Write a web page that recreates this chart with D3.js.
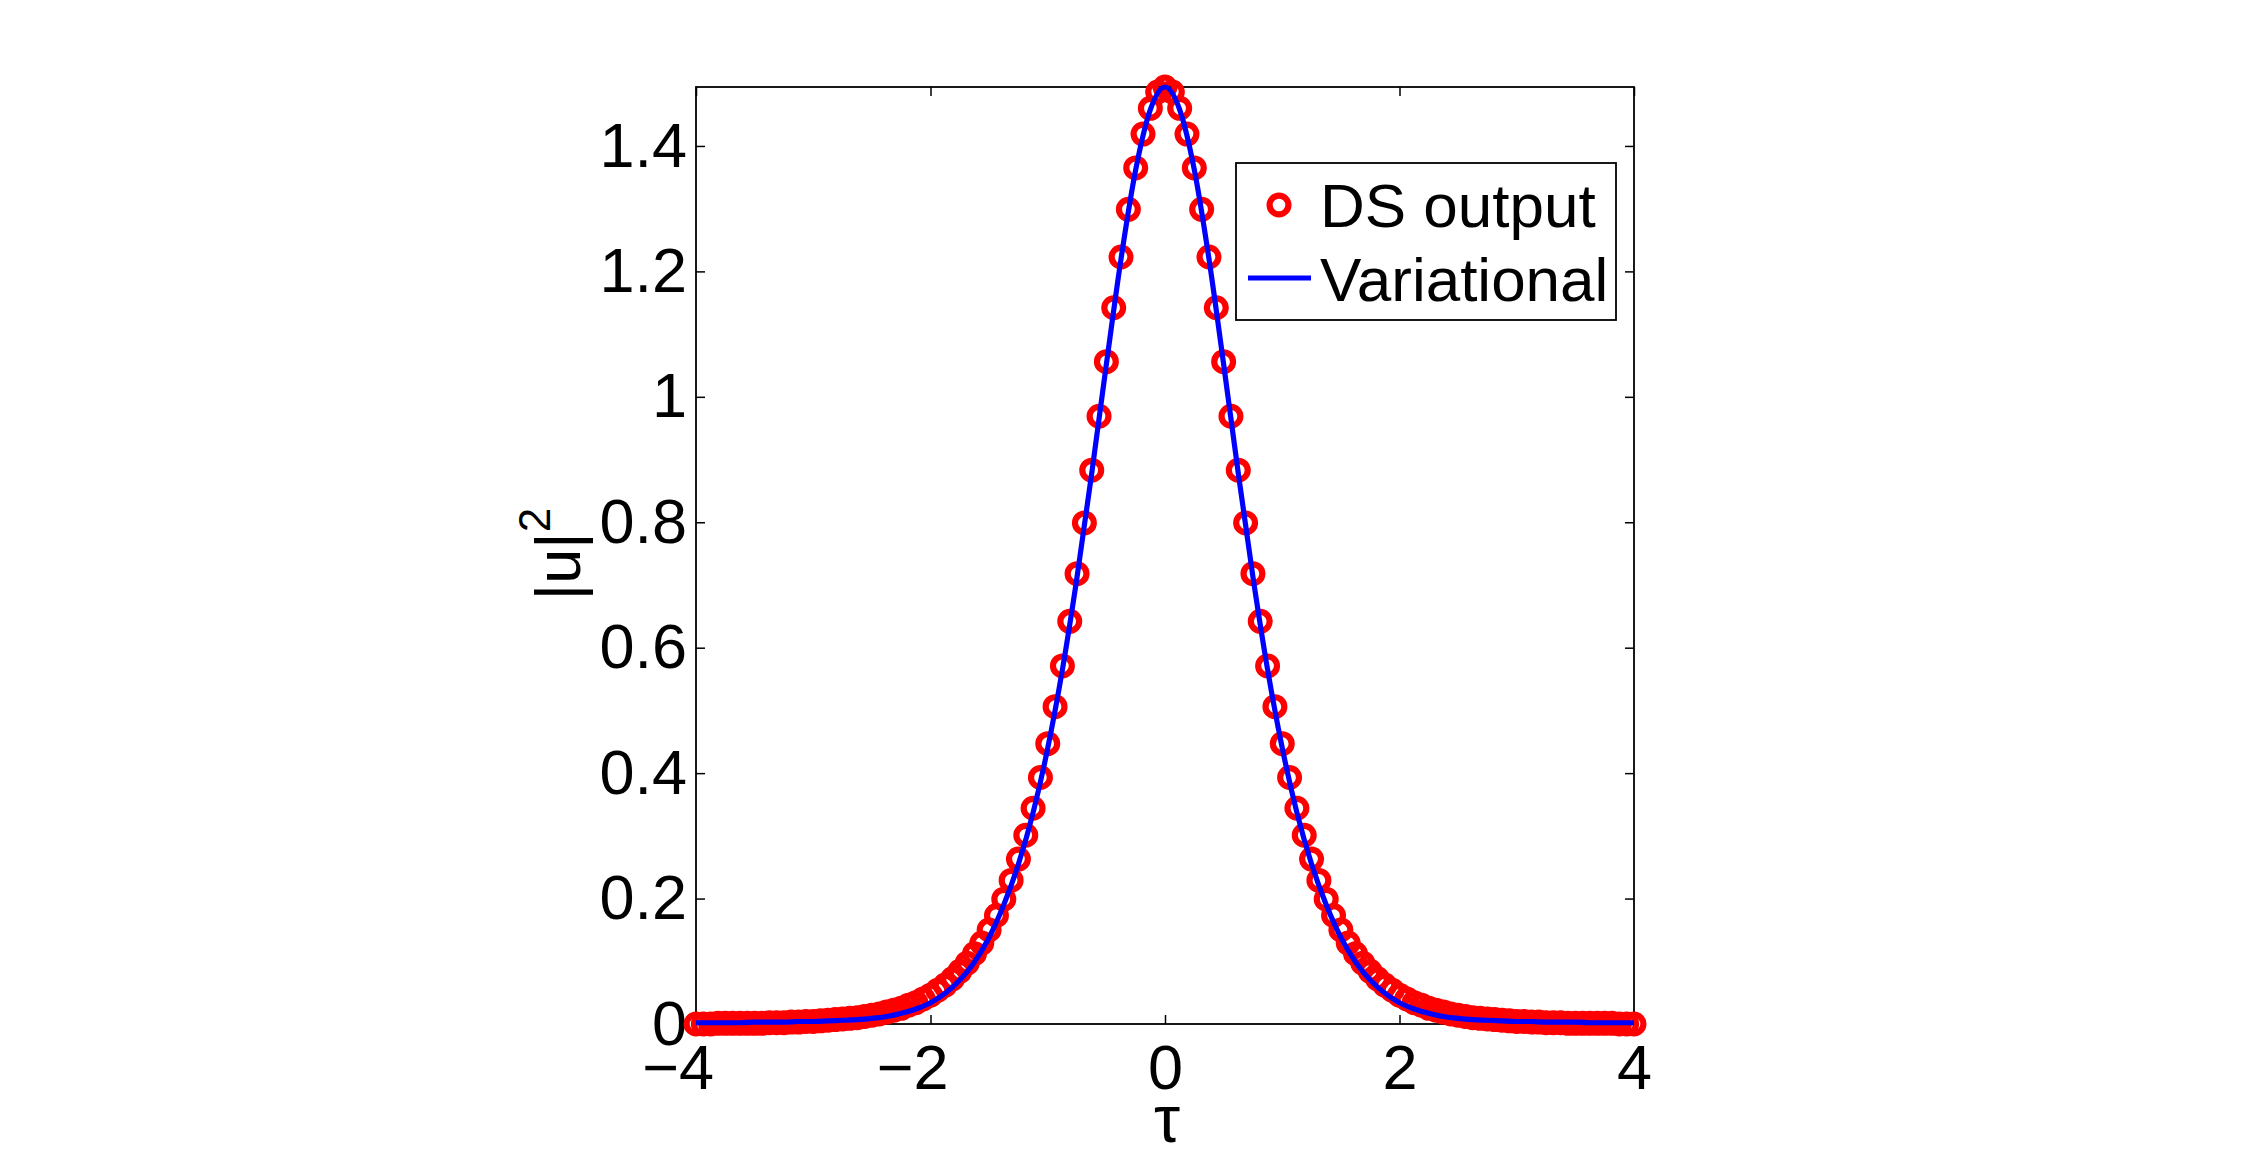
<!DOCTYPE html>
<html>
<head>
<meta charset="utf-8">
<script src="https://cdn.jsdelivr.net/npm/d3@7"></script>
<style>
  html, body { margin: 0; padding: 0; background: #ffffff; }
  svg { display: block; }
  text { font-family: "Liberation Sans", Arial, Helvetica, sans-serif; fill: #000; }
</style>
</head>
<body>
<script>
// ---------------- data ----------------
const xDomain = [-4, 4];
const yDomain = [0, 1.494];
const xTicks = [-4, -2, 0, 2, 4];
const xTickLabels = ["4", "2", "0", "2", "4"];
const xTickNegative = [true, true, false, false, false];
const yTicks = [0, 0.2, 0.4, 0.6, 0.8, 1, 1.2, 1.4];
const yTickLabels = ["0", "0.2", "0.4", "0.6", "0.8", "1", "1.2", "1.4"];
const seriesNames = ["DS output", "Variational"];
const xLabel = "τ";
const yLabelMain = "|u|";
const yLabelSup = "2";

// DS output samples (tau, |u|^2)
const dsTau = [
 -4,-3.9375,-3.875,-3.8125,-3.75,-3.6875,-3.625,-3.5625,-3.5,-3.4375,-3.375,-3.3125,-3.25,-3.1875,-3.125,-3.0625,
 -3,-2.9375,-2.875,-2.8125,-2.75,-2.6875,-2.625,-2.5625,-2.5,-2.4375,-2.375,-2.3125,-2.25,-2.1875,-2.125,-2.0625,
 -2,-1.9375,-1.875,-1.8125,-1.75,-1.6875,-1.625,-1.5625,-1.5,-1.4375,-1.375,-1.3125,-1.25,-1.1875,-1.125,-1.0625,
 -1,-0.9375,-0.875,-0.8125,-0.75,-0.6875,-0.625,-0.5625,-0.5,-0.4375,-0.375,-0.3125,-0.25,-0.1875,-0.125,-0.0625,
 0,
 0.0625,0.125,0.1875,0.25,0.3125,0.375,0.4375,0.5,0.5625,0.625,0.6875,0.75,0.8125,0.875,0.9375,1,
 1.0625,1.125,1.1875,1.25,1.3125,1.375,1.4375,1.5,1.5625,1.625,1.6875,1.75,1.8125,1.875,1.9375,2,
 2.0625,2.125,2.1875,2.25,2.3125,2.375,2.4375,2.5,2.5625,2.625,2.6875,2.75,2.8125,2.875,2.9375,3,
 3.0625,3.125,3.1875,3.25,3.3125,3.375,3.4375,3.5,3.5625,3.625,3.6875,3.75,3.8125,3.875,3.9375,4
];
const dsValues = [
 0.000,0.000,0.000,0.001,0.001,0.001,0.001,0.001,0.001,0.001,0.002,0.002,0.002,0.003,0.003,0.004,
 0.004,0.005,0.006,0.007,0.008,0.009,0.010,0.012,0.014,0.016,0.019,0.022,0.025,0.030,0.034,0.040,
 0.046,0.054,0.062,0.072,0.084,0.097,0.112,0.129,0.150,0.173,0.199,0.229,0.263,0.301,0.344,0.393,
 0.447,0.506,0.571,0.642,0.718,0.799,0.883,0.969,1.056,1.142,1.223,1.299,1.365,1.419,1.460,1.486,
 1.494,
 1.486,1.460,1.419,1.365,1.299,1.223,1.142,1.056,0.969,0.883,0.799,0.718,0.642,0.571,0.506,0.447,
 0.393,0.344,0.301,0.263,0.229,0.199,0.173,0.150,0.129,0.112,0.097,0.084,0.072,0.062,0.054,0.046,
 0.040,0.034,0.030,0.025,0.022,0.019,0.016,0.014,0.012,0.010,0.009,0.008,0.007,0.006,0.005,0.004,
 0.004,0.003,0.003,0.002,0.002,0.002,0.001,0.001,0.001,0.001,0.001,0.001,0.001,0.000,0.000,0.000
];

// Variational curve samples (tau, |u|^2)
const varTau = [
 -4,-3.875,-3.75,-3.625,-3.5,-3.375,-3.25,-3.125,-3,-2.875,-2.75,-2.625,-2.5,-2.375,-2.25,-2.125,
 -2,-1.875,-1.75,-1.625,-1.5,-1.375,-1.25,-1.125,-1,-0.875,-0.75,-0.625,-0.5,-0.375,-0.25,-0.125,
 0,
 0.125,0.25,0.375,0.5,0.625,0.75,0.875,1,1.125,1.25,1.375,1.5,1.625,1.75,1.875,2,
 2.125,2.25,2.375,2.5,2.625,2.75,2.875,3,3.125,3.25,3.375,3.5,3.625,3.75,3.875,4
];
const varValues = [
 0.002,0.002,0.002,0.002,0.003,0.003,0.003,0.004,0.004,0.005,0.006,0.007,0.009,0.012,0.017,0.024,
 0.034,0.049,0.070,0.099,0.138,0.190,0.255,0.337,0.440,0.565,0.713,0.878,1.052,1.220,1.362,1.458,
 1.494,
 1.458,1.362,1.220,1.052,0.878,0.713,0.565,0.440,0.337,0.255,0.190,0.138,0.099,0.070,0.049,0.034,
 0.024,0.017,0.012,0.009,0.007,0.006,0.005,0.004,0.004,0.003,0.003,0.003,0.002,0.002,0.002,0.002
];

// ---------------- drawing ----------------
const W = 2250, H = 1161;
const plot = { left: 696, top: 87, right: 1634, bottom: 1024 };

const svg = d3.select("body").append("svg")
  .attr("width", W).attr("height", H)
  .attr("viewBox", `0 0 ${W} ${H}`);
svg.append("rect").attr("width", W).attr("height", H).attr("fill", "#fff");

const x = d3.scaleLinear().domain(xDomain).range([plot.left, plot.right]);
const y = d3.scaleLinear().domain(yDomain).range([plot.bottom, plot.top]);

const tickFont = 63;
const tickLen = 9;

// Bottom axis
const gx = svg.append("g")
  .attr("transform", `translate(0,${plot.bottom})`)
  .call(d3.axisBottom(x).tickValues(xTicks).tickSize(-tickLen).tickPadding(20)
        .tickFormat((d, i) => xTickLabels[i]));
gx.select(".domain").remove();
gx.selectAll(".tick line").attr("stroke", "#000").attr("stroke-width", 1.5);
gx.selectAll(".tick text").attr("font-size", tickFont).attr("fill", "#000")
  .attr("font-family", "Liberation Sans, Arial, sans-serif");
gx.selectAll(".tick").each(function(d, i) {
  if (xTickNegative[i]) {
    d3.select(this).append("text")
      .attr("x", -0.278 * tickFont)
      .attr("y", 20)
      .attr("dy", "0.71em")
      .attr("text-anchor", "end")
      .attr("font-size", tickFont)
      .attr("fill", "#000")
      .attr("font-family", "Liberation Sans, Arial, sans-serif")
      .text("\u2212");
  }
});

// Left axis
const gy = svg.append("g")
  .attr("transform", `translate(${plot.left},0)`)
  .call(d3.axisLeft(y).tickValues(yTicks).tickSize(-tickLen).tickPadding(9)
        .tickFormat((d, i) => yTickLabels[i]));
gy.select(".domain").remove();
gy.selectAll(".tick line").attr("stroke", "#000").attr("stroke-width", 1.5);
gy.selectAll(".tick text").attr("font-size", tickFont).attr("fill", "#000")
  .attr("font-family", "Liberation Sans, Arial, sans-serif");

// Top axis (ticks only)
const gt = svg.append("g")
  .attr("transform", `translate(0,${plot.top})`)
  .call(d3.axisTop(x).tickValues(xTicks).tickSize(-tickLen).tickFormat(""));
gt.select(".domain").remove();
gt.selectAll(".tick line").attr("stroke", "#000").attr("stroke-width", 1.5);

// Right axis (ticks only)
const gr = svg.append("g")
  .attr("transform", `translate(${plot.right},0)`)
  .call(d3.axisRight(y).tickValues(yTicks).tickSize(-tickLen).tickFormat(""));
gr.select(".domain").remove();
gr.selectAll(".tick line").attr("stroke", "#000").attr("stroke-width", 1.5);

// Frame
svg.append("rect")
  .attr("x", plot.left).attr("y", plot.top)
  .attr("width", plot.right - plot.left).attr("height", plot.bottom - plot.top)
  .attr("fill", "none").attr("stroke", "#000").attr("stroke-width", 1.8);

// DS output markers
const ds = dsTau.map((t, i) => ({ t, v: dsValues[i] }));
svg.append("g").selectAll("circle").data(ds).join("circle")
  .attr("cx", d => x(d.t)).attr("cy", d => y(d.v))
  .attr("r", 9.4)
  .attr("fill", "none").attr("stroke", "#ff0000").attr("stroke-width", 6.2);

// Variational line
const vr = varTau.map((t, i) => ({ t, v: varValues[i] }));
svg.append("path").datum(vr)
  .attr("d", d3.line().x(d => x(d.t)).y(d => y(d.v)).curve(d3.curveMonotoneX))
  .attr("fill", "none").attr("stroke", "#0000ff").attr("stroke-width", 5.2)
  .attr("stroke-linejoin", "round");

// Axis labels
svg.append("text")
  .attr("x", 1167).attr("y", 1142)
  .attr("text-anchor", "middle")
  .attr("font-family", "Liberation Serif, Times New Roman, serif")
  .attr("font-size", 66)
  .text(xLabel);

const yl = svg.append("text")
  .attr("transform", `translate(580,554) rotate(-90)`)
  .attr("text-anchor", "middle")
  .attr("font-size", 63);
yl.append("tspan").text(yLabelMain);
yl.append("tspan").attr("font-size", 44).attr("dy", -30).text(yLabelSup);

// Legend
const lg = svg.append("g");
lg.append("rect")
  .attr("x", 1236).attr("y", 163).attr("width", 380).attr("height", 157)
  .attr("fill", "#fff").attr("stroke", "#000").attr("stroke-width", 1.8);
lg.append("circle").attr("cx", 1279).attr("cy", 205).attr("r", 9.4)
  .attr("fill", "none").attr("stroke", "#ff0000").attr("stroke-width", 6.2);
lg.append("line").attr("x1", 1248).attr("x2", 1311).attr("y1", 278).attr("y2", 278)
  .attr("stroke", "#0000ff").attr("stroke-width", 5.2);
lg.append("text").attr("x", 1320).attr("y", 227).attr("font-size", 62).text(seriesNames[0]);
lg.append("text").attr("x", 1320).attr("y", 301).attr("font-size", 62).text(seriesNames[1]);
</script>
</body>
</html>
